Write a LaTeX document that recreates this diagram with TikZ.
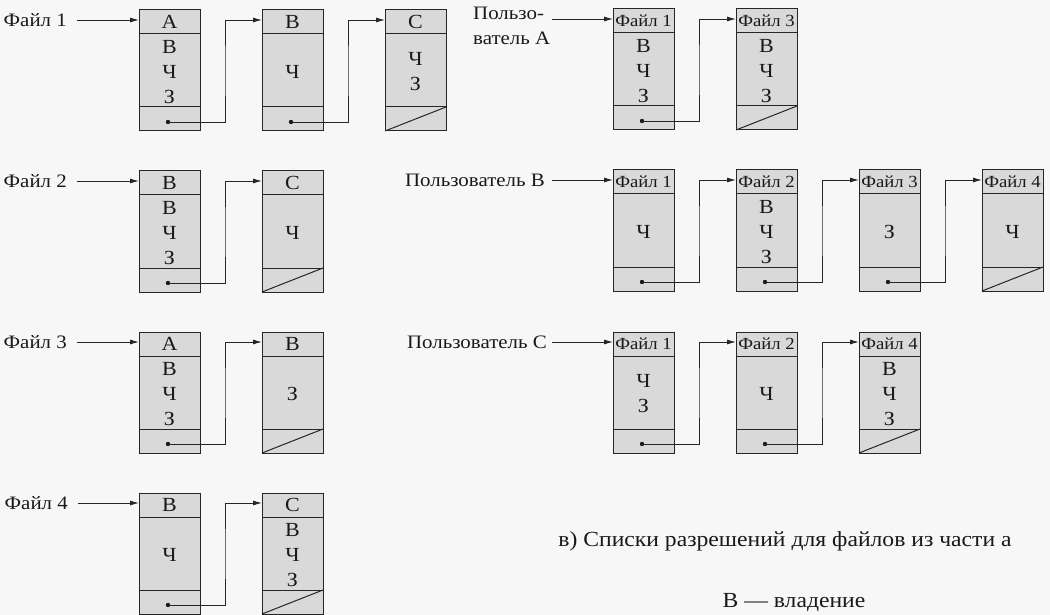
\documentclass[tikz,border=0pt]{standalone}
\usepackage{fontspec}
\setmainfont[FakeStretch=1.1]{Liberation Serif}
\usetikzlibrary{arrows.meta}
\tikzset{
  x=1pt, y=-1pt,
  ln/.style={draw=black!85, line width=1pt},
  cellbox/.style={ln, fill=black!15, minimum width=61pt, minimum height=121pt, inner sep=0pt, outer sep=0pt},
  hdr/.style={font=\fontsize{20}{22}\selectfont, inner sep=0pt, text=black!90},
  hdrs/.style={font=\fontsize{17}{19}\selectfont, inner sep=0pt, text=black!90},
  bodytxt/.style={font=\fontsize{20}{25}\selectfont, align=center, inner sep=0pt, text=black!90},
  lbl/.style={font=\fontsize{19}{25}\selectfont, inner sep=0pt, anchor=east, text=black!90},
  txt/.style={font=\fontsize{19}{25}\selectfont, inner sep=0pt, text=black!90},
  captxt/.style={font=\fontsize{21.5}{25}\selectfont, inner sep=0pt, text=black!90},
  link/.style={draw=black!85, line width=0.9pt, -{Latex[length=9pt,width=5pt]}},
}
% #1 header style, #2 name, #3 x, #4 y (top), #5 header text, #6 body text
\newcommand{\cell}[6][hdr]{%
  \node[cellbox, anchor=north west] (#2) at (#3,#4) {};
  \draw[ln] ([yshift=-24pt]#2.north west) -- ([yshift=-24pt]#2.north east);
  \draw[ln] ([yshift=24pt]#2.south west) -- ([yshift=24pt]#2.south east);
  \node[#1] (#2-h) at ([yshift=-12pt]#2.north) {#5};
  \node[bodytxt] (#2-b) at ([yshift=-62pt]#2.north) {#6};
  \coordinate (#2-p) at ([xshift=-1.5pt,yshift=9pt]#2.south);
  \coordinate (#2-in) at ([yshift=-10pt]#2.north west);
}
\newcommand{\nilptr}[1]{\draw[ln] (#1.south west) -- ([yshift=24pt]#1.south east);}
\newcommand{\linkto}[2]{%
  \fill[black!90] (#1-p) circle (2.2pt);
  \draw[link] (#1-p) -| ([xshift=25pt]#1.east) |- (#2-in);
}
\begin{document}
\begin{tikzpicture}
\fill[white!97!black] (0,0) rectangle (1050,615);
\useasboundingbox (0,0) rectangle (1050,615);

% ---------- left: files ----------
\node[lbl] (f1) at (67,20) {Файл 1};
\cell{a1}{139}{10}{A}{В\\Ч\\З}
\cell{a2}{262}{10}{B}{Ч}
\cell{a3}{385}{10}{C}{Ч\\З}
\nilptr{a3}
\draw[link, shorten <=10pt] (f1.east) -- (a1-in);
\linkto{a1}{a2}
\linkto{a2}{a3}

\node[lbl] (f2) at (67,181) {Файл 2};
\cell{b1}{139}{171}{B}{В\\Ч\\З}
\cell{b2}{262}{171}{C}{Ч}
\nilptr{b2}
\draw[link, shorten <=10pt] (f2.east) -- (b1-in);
\linkto{b1}{b2}

\node[lbl] (f3) at (67,342) {Файл 3};
\cell{c1}{139}{332}{A}{В\\Ч\\З}
\cell{c2}{262}{332}{B}{З}
\nilptr{c2}
\draw[link, shorten <=10pt] (f3.east) -- (c1-in);
\linkto{c1}{c2}

\node[lbl] (f4) at (68,503) {Файл 4};
\cell{d1}{139}{493}{B}{Ч}
\cell{d2}{262}{493}{C}{В\\Ч\\З}
\nilptr{d2}
\draw[link, shorten <=10pt] (f4.east) -- (d1-in);
\linkto{d1}{d2}

% ---------- right: users ----------
\node[txt, anchor=north west, align=left] (uA) at (473,7) {Пользо-\\ватель A};
\coordinate (uA-out) at (552,19);
\cell[hdrs]{p1}{613}{9}{Файл 1}{В\\Ч\\З}
\cell[hdrs]{p2}{736}{9}{Файл 3}{В\\Ч\\З}
\nilptr{p2}
\draw[link] (uA-out) -- (p1-in);
\linkto{p1}{p2}

\node[lbl] (uB) at (545,180) {Пользователь B};
\cell[hdrs]{q1}{613}{170}{Файл 1}{Ч}
\cell[hdrs]{q2}{736}{170}{Файл 2}{В\\Ч\\З}
\cell[hdrs]{q3}{859}{170}{Файл 3}{З}
\cell[hdrs]{q4}{982}{170}{Файл 4}{Ч}
\nilptr{q4}
\draw[link, shorten <=7pt] (uB.east) -- (q1-in);
\linkto{q1}{q2}
\linkto{q2}{q3}
\linkto{q3}{q4}

\node[lbl] (uC) at (547,342) {Пользователь C};
\cell[hdrs]{r1}{613}{332}{Файл 1}{Ч\\З}
\cell[hdrs]{r2}{736}{332}{Файл 2}{Ч}
\cell[hdrs]{r3}{859}{332}{Файл 4}{В\\Ч\\З}
\nilptr{r3}
\draw[link, shorten <=5pt] (uC.east) -- (r1-in);
\linkto{r1}{r2}
\linkto{r2}{r3}

% ---------- captions ----------
\node[captxt] (caption) at (785,541) {в) Списки разрешений для файлов из части а};
\node[captxt] (legend) at (794,603) {В — владение};
\end{tikzpicture}
\end{document}
